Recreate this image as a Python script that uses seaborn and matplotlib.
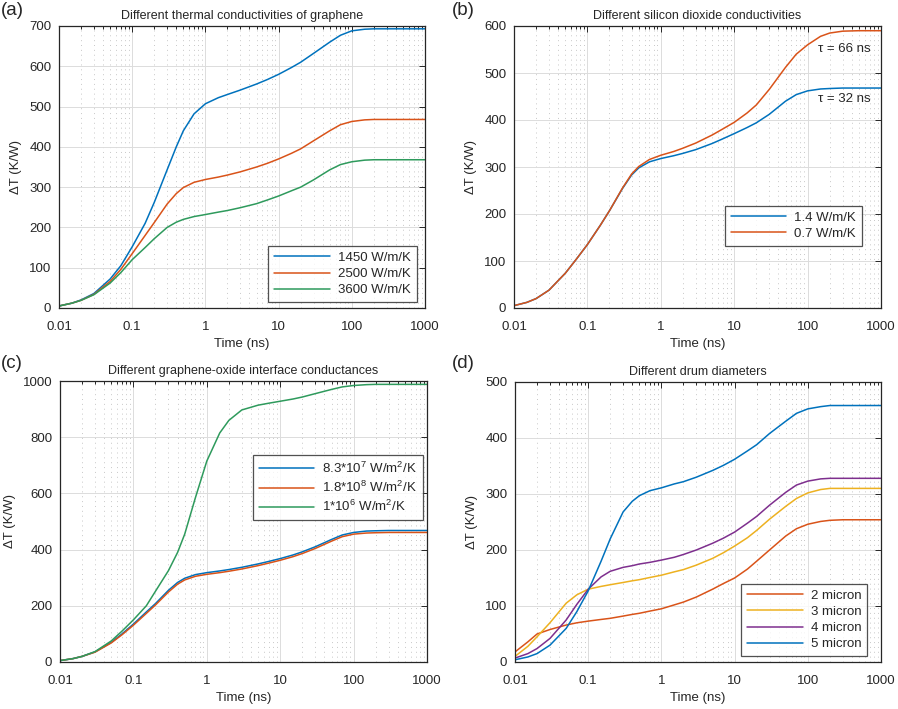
import matplotlib
matplotlib.use('Agg')
import matplotlib.pyplot as plt
import matplotlib.ticker as mticker
import seaborn as sns
import pandas as pd

# time axis (ns), shared by every curve
time_ns = [0.01, 0.015, 0.02, 0.03, 0.05, 0.07, 0.1, 0.15, 0.2, 0.3, 0.4, 0.5, 0.7, 1,
           1.5, 2, 3, 5, 7, 10, 15, 20, 30, 50, 70, 100, 150, 200, 300, 500, 1000]

# (a) thermal conductivity of graphene
a_1450 = [5, 12, 20, 36, 72, 105, 152, 210, 262, 343, 400, 440, 482, 507,
          522, 530, 541, 556, 567, 580, 597, 610, 632, 660, 677, 688, 692, 693, 693, 693, 693]
a_2500 = [5, 12, 19, 34, 66, 96, 135, 180, 212, 258, 284, 299, 312, 319,
          325, 330, 338, 350, 359, 370, 384, 395, 415, 440, 455, 463, 467, 468, 468, 468, 468]
a_3600 = [5, 12, 19, 33, 62, 88, 120, 150, 172, 200, 213, 220, 227, 232,
          238, 242, 249, 259, 268, 278, 291, 300, 318, 343, 356, 363, 367, 368, 368, 368, 368]

# (b) silicon dioxide conductivity
b_14 = [5, 12, 20, 38, 74, 103, 135, 176, 207, 254, 283, 298, 311, 318,
        324, 329, 337, 350, 360, 371, 384, 394, 412, 440, 454, 462, 466, 467, 468, 468, 468]
b_07 = [5, 12, 20, 38, 74, 103, 135, 176, 207, 255, 285, 301, 316, 325,
        333, 340, 351, 368, 381, 395, 415, 432, 465, 512, 540, 560, 578, 585, 589, 590, 590]

# (c) graphene-oxide interface conductance
c_83e7 = [5, 12, 20, 36, 70, 100, 135, 178, 208, 255, 283, 298, 311, 318,
          324, 329, 337, 349, 358, 368, 381, 392, 410, 436, 452, 461, 466, 467, 468, 468, 468]
c_18e8 = [5, 12, 20, 35, 68, 97, 131, 173, 203, 249, 277, 292, 305, 312,
          318, 323, 331, 343, 352, 362, 375, 386, 404, 430, 446, 455, 459, 460, 461, 461, 461]
c_1e6 = [5, 12, 20, 37, 75, 110, 150, 200, 252, 325, 390, 455, 585, 715,
         815, 860, 897, 914, 921, 928, 936, 943, 955, 970, 979, 984, 987, 988, 988, 988, 988]

# (d) drum diameter
d_2um = [18, 36, 50, 58, 66, 70, 73, 76, 78, 82, 85, 87, 91, 95,
         102, 107, 116, 130, 140, 150, 166, 180, 200, 225, 238, 246, 251, 253, 254, 254, 254]
d_3um = [10, 28, 45, 70, 105, 120, 130, 135, 138, 142, 145, 147, 151, 155,
         161, 165, 173, 185, 195, 207, 222, 235, 255, 278, 292, 302, 308, 310, 310, 310, 310]
d_4um = [7, 15, 24, 42, 75, 103, 130, 152, 162, 169, 172, 175, 178, 182,
         187, 192, 200, 212, 221, 232, 248, 260, 280, 303, 316, 323, 327, 328, 328, 328, 328]
d_5um = [4, 9, 15, 30, 60, 90, 127, 180, 220, 268, 287, 297, 306, 311,
         318, 322, 330, 342, 351, 362, 377, 388, 408, 430, 444, 452, 456, 458, 458, 458, 458]

BLUE, ORANGE, YELLOW, PURPLE, GREEN = '#0072BD', '#D95319', '#EDB120', '#7E2F8E', '#2E9A5C'
INK = '#262626'

sns.set_theme(style='white')
plt.rcParams['font.family'] = ['Liberation Sans', 'DejaVu Sans']
plt.rcParams['mathtext.fontset'] = 'custom'
plt.rcParams['mathtext.rm'] = 'Liberation Sans'
plt.rcParams['mathtext.it'] = 'Liberation Sans'

fig = plt.figure(figsize=(8.98, 7.09), dpi=100)
W, H = 898, 709


def make_ax(x0, y0, x1, y1):
    return fig.add_axes([x0 / W, 1 - y1 / H, (x1 - x0) / W, (y1 - y0) / H])


def style(ax, title, ymax, ystep):
    ax.set_xscale('log')
    ax.set_xlim(0.01, 1000)
    ax.set_ylim(0, ymax)
    ax.set_yticks(range(0, ymax + 1, ystep))
    ax.xaxis.set_major_locator(mticker.FixedLocator([0.01, 0.1, 1, 10, 100, 1000]))
    ax.set_xticklabels(['0.01', '0.1', '1', '10', '100', '1000'])
    ax.xaxis.set_minor_locator(mticker.LogLocator(base=10, subs=range(2, 10), numticks=20))
    ax.xaxis.set_minor_formatter(mticker.NullFormatter())
    ax.grid(True, which='major', color='#dcdcdc', lw=0.7, ls='-')
    ax.grid(True, which='minor', axis='x', color='#c8c8c8', lw=0.7, ls=(0, (1, 4)))
    ax.set_axisbelow(True)
    ax.tick_params(which='both', direction='in', top=True, right=True,
                   labelsize=9.5, colors=INK, length=4, width=0.7)
    ax.tick_params(which='minor', length=2)
    ax.tick_params(axis='x', which='major', pad=9)
    ax.tick_params(axis='y', which='major', pad=5.5)
    for s in ax.spines.values():
        s.set_color(INK)
        s.set_linewidth(0.9)
    ax.set_title(title, fontsize=9, color=INK, pad=5)
    ax.set_xlabel('Time (ns)', fontsize=9.5, color=INK, labelpad=4)
    ax.set_ylabel('ΔT (K/W)', fontsize=9.5, color=INK, labelpad=5)


def draw(ax, series):
    for vals, col, lab in series:
        df = pd.DataFrame({'t': time_ns, 'dT': vals})
        sns.lineplot(data=df, x='t', y='dT', ax=ax, color=col, lw=1.1, label=lab)


def legend(ax, loc, anchor):
    leg = ax.legend(loc=loc, bbox_to_anchor=anchor, borderaxespad=0, fontsize=9.5,
                    frameon=True, fancybox=False, handlelength=4.2, handletextpad=0.6,
                    labelspacing=0.3, borderpad=0.45)
    leg.get_frame().set_edgecolor(INK)
    leg.get_frame().set_linewidth(0.9)
    for t in leg.get_texts():
        t.set_color(INK)


axa = make_ax(59, 26, 425, 308)
draw(axa, [(a_1450, BLUE, '1450 W/m/K'), (a_2500, ORANGE, '2500 W/m/K'), (a_3600, GREEN, '3600 W/m/K')])
style(axa, 'Different thermal conductivities of graphene', 700, 100)
legend(axa, 'lower right', (0.977, 0.02))

axb = make_ax(514, 26, 881, 308)
draw(axb, [(b_14, BLUE, '1.4 W/m/K'), (b_07, ORANGE, '0.7 W/m/K')])
style(axb, 'Different silicon dioxide conductivities', 600, 100)
legend(axb, 'lower right', (0.948, 0.22))
axb.text(730, 550, 'τ = 66 ns', ha='right', va='center', fontsize=9.5, color=INK)
axb.text(730, 445, 'τ = 32 ns', ha='right', va='center', fontsize=9.5, color=INK)

axc = make_ax(60, 381, 427, 662)
draw(axc, [(c_83e7, BLUE, '8.3*10$^7$ W/m$^2$/K'), (c_18e8, ORANGE, '1.8*10$^8$ W/m$^2$/K'),
           (c_1e6, GREEN, '1*10$^6$ W/m$^2$/K')])
style(axc, 'Different graphene-oxide interface conductances', 1000, 200)
legend(axc, 'upper right', (0.989, 0.737))

axd = make_ax(515, 382, 881, 662)
draw(axd, [(d_2um, ORANGE, '2 micron'), (d_3um, YELLOW, '3 micron'),
           (d_4um, PURPLE, '4 micron'), (d_5um, BLUE, '5 micron')])
style(axd, 'Different drum diameters', 500, 100)
legend(axd, 'lower right', (0.962, 0.02))

for lab, x, y in [('(a)', 0.001, 0.997), ('(b)', 452 / W, 0.997),
                  ('(c)', 0.001, 1 - 355 / H), ('(d)', 452 / W, 1 - 355 / H)]:
    fig.text(x, y, lab, ha='left', va='top', fontsize=13.5, color=INK)

fig.savefig('out.png', dpi=100, facecolor='white')
